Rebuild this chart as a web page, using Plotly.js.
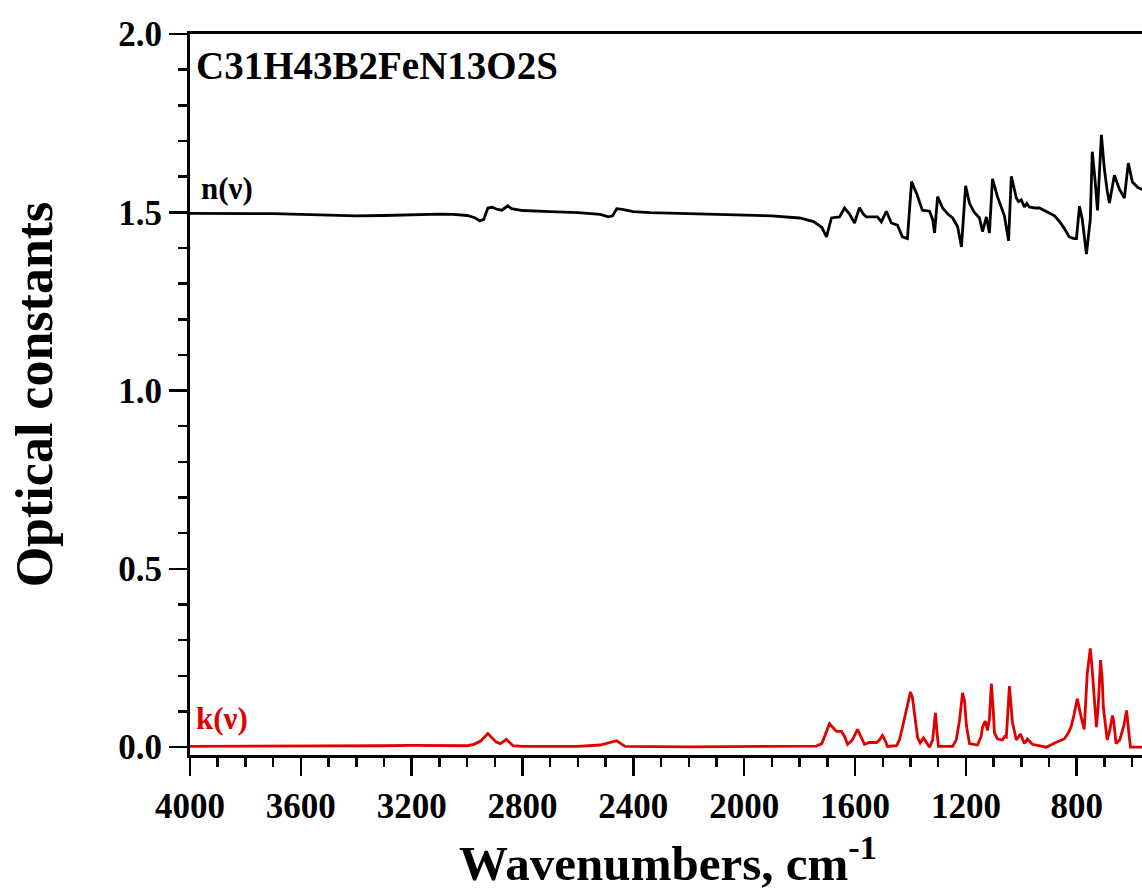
<!DOCTYPE html>
<html>
<head>
<meta charset="utf-8">
<script src="https://cdn.plot.ly/plotly-3.0.1.min.js"></script>
<style>
  html, body { margin: 0; padding: 0; overflow: hidden; background: #fff; }
  #chart { width: 1146px; height: 891px; }
</style>
</head>
<body>
<div id="chart"></div>
<script>
// Refractive index n(ν)
const nWavenumber = [4000,3900,3800,3700,3600,3500,3400,3300,3200,3100,3050,3000,2970,2954,2940,2925,2910,2890,2875,2865,2853,2840,2800,2700,2600,2520,2490,2475,2460,2440,2400,2340,2200,2100,2000,1900,1800,1750,1720,1703,1690,1685,1670,1656,1638,1620,1602,1584,1570,1559,1519,1505,1487,1475,1469,1447,1435,1429,1411,1396,1385,1378,1357,1345,1331,1320,1313,1302,1284,1265,1248,1230,1216,1201,1187,1170,1151,1140,1126,1115,1104,1086,1070,1061,1046,1036,1018,1010,1000,989,980,971,950,935,899,880,863,845,827,810,801,790,780,765,751,744,735,725,711,700,690,682,664,646,628,614,599,580,560];
const nValue = [1.497,1.497,1.496,1.496,1.494,1.492,1.490,1.491,1.494,1.495,1.494,1.491,1.484,1.476,1.480,1.512,1.514,1.508,1.506,1.512,1.518,1.510,1.505,1.502,1.499,1.494,1.487,1.490,1.510,1.508,1.502,1.499,1.496,1.494,1.493,1.490,1.484,1.474,1.458,1.431,1.470,1.484,1.486,1.487,1.512,1.495,1.470,1.513,1.495,1.487,1.487,1.473,1.503,1.480,1.470,1.464,1.445,1.431,1.426,1.586,1.565,1.553,1.506,1.505,1.503,1.480,1.442,1.544,1.512,1.495,1.484,1.460,1.403,1.574,1.525,1.500,1.484,1.446,1.487,1.442,1.594,1.544,1.505,1.490,1.420,1.601,1.540,1.530,1.535,1.515,1.525,1.515,1.512,1.512,1.498,1.490,1.475,1.455,1.431,1.426,1.426,1.517,1.480,1.383,1.480,1.670,1.600,1.505,1.717,1.620,1.560,1.526,1.604,1.565,1.540,1.638,1.585,1.570,1.562];

// Extinction coefficient k(ν)
const kWavenumber = [4000,3900,3700,3500,3300,3200,3100,3000,2975,2950,2935,2925,2915,2895,2880,2865,2858,2850,2835,2800,2600,2520,2490,2470,2460,2445,2430,2200,2000,1800,1740,1720,1705,1692,1680,1667,1649,1638,1627,1610,1591,1580,1566,1548,1522,1510,1501,1492,1483,1450,1440,1429,1415,1400,1393,1385,1374,1365,1353,1340,1331,1320,1310,1304,1299,1248,1235,1223,1212,1205,1198,1187,1158,1145,1140,1130,1122,1115,1108,1101,1097,1086,1068,1060,1054,1043,1037,1032,1018,1003,989,978,960,930,910,874,845,830,820,810,798,784,773,762,751,744,736,729,722,714,708,704,690,680,671,666,658,645,630,620,612,606,560];
const kValue = [0.002,0.002,0.002,0.002,0.004,0.005,0.004,0.004,0.008,0.018,0.030,0.038,0.030,0.014,0.010,0.018,0.022,0.016,0.004,0.002,0.002,0.006,0.012,0.018,0.018,0.010,0.002,0.001,0.001,0.001,0.003,0.010,0.040,0.066,0.055,0.044,0.044,0.030,0.008,0.020,0.050,0.030,0.008,0.013,0.013,0.022,0.033,0.020,0.002,0.004,0.020,0.055,0.100,0.155,0.140,0.084,0.026,0.012,0.026,0.010,0.000,0.020,0.096,0.040,0.002,0.002,0.020,0.075,0.152,0.130,0.060,0.010,0.006,0.030,0.056,0.073,0.047,0.080,0.178,0.100,0.040,0.023,0.020,0.030,0.028,0.171,0.120,0.070,0.020,0.037,0.010,0.023,0.008,0.004,0.000,0.014,0.023,0.040,0.058,0.090,0.136,0.084,0.050,0.207,0.277,0.216,0.120,0.056,0.120,0.244,0.190,0.112,0.020,0.050,0.089,0.070,0.010,0.020,0.060,0.103,0.040,0.000,0.000];

const xTickVals = [4000,3600,3200,2800,2400,2000,1600,1200,800];
const yTickVals = [0.0,0.5,1.0,1.5,2.0];
const yTickText = ['0.0','0.5','1.0','1.5','2.0'];

const formulaLabel = 'C31H43B2FeN13O2S';
const nLabel = 'n(ν)';
const kLabel = 'k(ν)';

const FONT = 'Liberation Serif, Times New Roman, serif';
const RED = '#e00000';

const traces = [
  { x: nWavenumber, y: nValue, type: 'scatter', mode: 'lines', name: nLabel,
    line: { color: '#000000', width: 2.8 }, showlegend: false },
  { x: kWavenumber, y: kValue, type: 'scatter', mode: 'lines', name: kLabel,
    line: { color: RED, width: 2.8 }, showlegend: false }
];

const layout = {
  width: 1146, height: 891,
  margin: { l: 190, r: 0, t: 34, b: 136 },
  paper_bgcolor: '#ffffff', plot_bgcolor: '#ffffff',
  font: { family: FONT, color: '#000000' },
  xaxis: {
    range: [4000, 550], showgrid: false, zeroline: false,
    showline: true, linecolor: '#000', linewidth: 3, mirror: true,
    tickmode: 'array', tickvals: xTickVals,
    ticks: 'outside', ticklen: 18, tickwidth: 2.5, tickcolor: '#000',
    minor: { dtick: 100, ticks: 'outside', ticklen: 9, tickwidth: 2.5, tickcolor: '#000', showgrid: false },
    tickfont: { family: FONT, size: 35, weight: 'bold', color: '#000' },
    title: { text: 'Wavenumbers, cm<sup>-1</sup>', standoff: 22,
             font: { family: FONT, size: 49, weight: 'bold', color: '#000' } }
  },
  yaxis: {
    range: [-0.022, 2.0], showgrid: false, zeroline: false,
    showline: true, linecolor: '#000', linewidth: 3, mirror: true,
    tickmode: 'array', tickvals: yTickVals, ticktext: yTickText,
    ticks: 'outside', ticklen: 18, tickwidth: 2.5, tickcolor: '#000',
    minor: { dtick: 0.1, ticks: 'outside', ticklen: 9, tickwidth: 2.5, tickcolor: '#000', showgrid: false },
    tickfont: { family: FONT, size: 35, weight: 'bold', color: '#000' },
    title: { text: 'Optical constants', standoff: 50,
             font: { family: FONT, size: 52, weight: 'bold', color: '#000' } }
  },
  annotations: [
    { xref: 'paper', yref: 'paper', x: 0.004, y: 0.957, xanchor: 'left', yanchor: 'middle',
      text: formulaLabel, showarrow: false,
      font: { family: FONT, size: 39, weight: 'bold', color: '#000' } },
    { xref: 'paper', yref: 'paper', x: 0.009, y: 0.786, xanchor: 'left', yanchor: 'middle',
      text: nLabel, showarrow: false,
      font: { family: FONT, size: 31, weight: 'bold', color: '#000' } },
    { xref: 'paper', yref: 'paper', x: 0.004, y: 0.05, xanchor: 'left', yanchor: 'middle',
      text: kLabel, showarrow: false,
      font: { family: FONT, size: 31, weight: 'bold', color: RED } }
  ]
};

Plotly.newPlot('chart', traces, layout, { displayModeBar: false, staticPlot: true });
</script>
</body>
</html>
